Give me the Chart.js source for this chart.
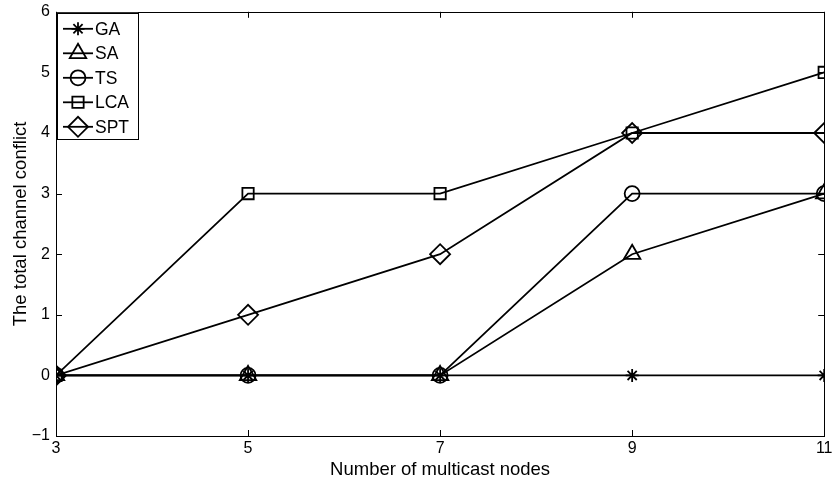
<!DOCTYPE html>
<html>
<head>
<meta charset="utf-8">
<script src="https://cdn.jsdelivr.net/npm/chart.js@4/dist/chart.umd.min.js"></script>
<style>
  html, body { margin: 0; padding: 0; background: #fff; }
  #wrap { width: 836px; height: 481px; position: relative; }
</style>
</head>
<body>
<div id="wrap"><canvas id="c" width="836" height="481"></canvas></div>
<script>
const nodes = [3, 5, 7, 9, 11];
const seriesNames = ['GA', 'SA', 'TS', 'LCA', 'SPT'];
const gaValues  = [0, 0, 0, 0, 0];
const saValues  = [0, 0, 0, 2, 3];
const tsValues  = [0, 0, 0, 3, 3];
const lcaValues = [0, 3, 3, 4, 5];
const sptValues = [0, 1, 2, 4, 4];
const xTickLabels = ['3', '5', '7', '9', '11'];
const yTickLabels = ['\u22121', '0', '1', '2', '3', '4', '5', '6'];
const xTitle = 'Number of multicast nodes';
const yTitle = 'The total channel conflict';

const allValues = [gaValues, saValues, tsValues, lcaValues, sptValues];
const styles = [
  { pointStyle: 'star', radius: 6.5 },
  { pointStyle: 'triangle', radius: 9.5 },
  { pointStyle: 'circle', radius: 7.5 },
  { pointStyle: 'rect', radius: 8 },
  { pointStyle: 'rectRot', radius: 10 }
];

const datasets = seriesNames.map((name, i) => ({
  label: name,
  data: nodes.map((x, j) => ({ x: x, y: allValues[i][j] })),
  borderColor: '#000',
  borderWidth: 1.8,
  pointStyle: styles[i].pointStyle,
  pointRadius: styles[i].radius,
  pointHoverRadius: styles[i].radius,
  pointBorderColor: '#000',
  pointBackgroundColor: 'rgba(0,0,0,0)',
  pointBorderWidth: 1.8,
  fill: false,
  tension: 0
}));

const frameAndLegend = {
  id: 'frameAndLegend',
  afterDraw(chart) {
    const ctx = chart.ctx;
    const a = chart.chartArea;
    const xs = chart.scales.x, ys = chart.scales.y;
    ctx.save();
    ctx.strokeStyle = '#000';
    ctx.lineWidth = 1;
    ctx.strokeRect(Math.round(a.left) + 0.5, Math.round(a.top) + 0.5,
                   Math.round(a.right - a.left), Math.round(a.bottom - a.top));
    const tl = 6;
    ctx.beginPath();
    xs.ticks.forEach(t => {
      const px = Math.round(xs.getPixelForValue(t.value)) + 0.5;
      ctx.moveTo(px, a.bottom); ctx.lineTo(px, a.bottom - tl);
      ctx.moveTo(px, a.top); ctx.lineTo(px, a.top + tl);
    });
    ys.ticks.forEach(t => {
      const py = Math.round(ys.getPixelForValue(t.value)) + 0.5;
      ctx.moveTo(a.left, py); ctx.lineTo(a.left + tl, py);
      ctx.moveTo(a.right, py); ctx.lineTo(a.right - tl, py);
    });
    ctx.stroke();

    // legend box inside plot
    const lx = a.left + 1, ly = a.top + 1, lw = 81, lh = 126;
    ctx.fillStyle = '#fff';
    ctx.fillRect(lx, ly, lw, lh);
    ctx.strokeRect(Math.round(lx) + 0.5, Math.round(ly) + 0.5, lw, lh);
    ctx.font = '17.5px "Liberation Sans", Arial, sans-serif';
    ctx.textBaseline = 'middle';
    ctx.textAlign = 'left';
    chart.data.datasets.forEach((ds, i) => {
      const cy = ly + 16 + i * 24.5;
      ctx.strokeStyle = '#000';
      ctx.lineWidth = 1.8;
      ctx.beginPath();
      ctx.moveTo(lx + 6, cy); ctx.lineTo(lx + 36, cy);
      ctx.stroke();
      ctx.fillStyle = 'rgba(0,0,0,0)';
      Chart.helpers.drawPoint(ctx, {
        pointStyle: ds.pointStyle, radius: ds.pointRadius, rotation: 0, borderWidth: 1.8
      }, lx + 21, cy);
      ctx.fillStyle = '#000';
      ctx.fillText(ds.label, lx + 38, cy + 1);
    });
    ctx.restore();
  }
};

const fontFamily = '"Liberation Sans", Arial, sans-serif';

new Chart(document.getElementById('c'), {
  type: 'line',
  data: { datasets: datasets },
  options: {
    responsive: false,
    animation: false,
    layout: { padding: { left: 0, top: 10, right: 10, bottom: 0 } },
    plugins: { legend: { display: false }, tooltip: { enabled: false } },
    elements: { point: { borderColor: '#000' } },
    scales: {
      x: {
        type: 'linear',
        min: 3, max: 11,
        grid: { display: false, drawTicks: false },
        border: { display: false },
        ticks: {
          stepSize: 2, color: '#000', padding: 3,
          font: { family: fontFamily, size: 16 },
          maxRotation: 0,
          callback: (v) => { const i = nodes.indexOf(v); return i >= 0 ? xTickLabels[i] : ''; }
        },
        title: { display: true, text: xTitle, color: '#000',
                 font: { family: fontFamily, size: 18.5 }, padding: { top: 7, bottom: 0 } },
        afterFit(scale) { scale.height = 45; scale.paddingLeft = 0; scale.paddingRight = 0; }
      },
      y: {
        type: 'linear',
        min: -1, max: 6,
        grid: { display: false, drawTicks: false },
        border: { display: false },
        ticks: {
          stepSize: 1, color: '#000', padding: 6,
          font: { family: fontFamily, size: 16 },
          callback: (v) => { const i = Math.round(v) + 1; return yTickLabels[i]; }
        },
        title: { display: true, text: yTitle, color: '#000',
                 font: { family: fontFamily, size: 18.5 }, padding: { top: 10, bottom: 0 } },
        afterFit(scale) { scale.width = 56; scale.paddingTop = 0; scale.paddingBottom = 0; }
      }
    }
  },
  plugins: [frameAndLegend]
});
</script>
</body>
</html>
